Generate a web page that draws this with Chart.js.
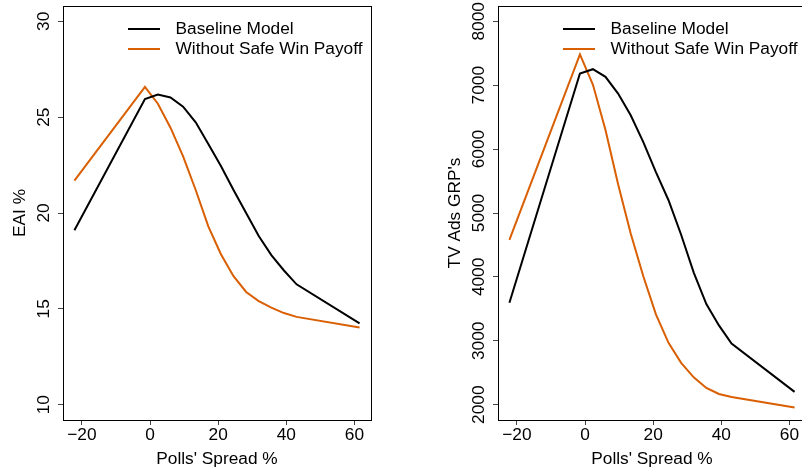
<!DOCTYPE html>
<html><head><meta charset="utf-8">
<script src="https://cdn.jsdelivr.net/npm/chart.js@4/dist/chart.umd.min.js"></script>
<style>
html,body{margin:0;padding:0;background:#fff;overflow:hidden}
#wrap{position:relative;width:802px;height:470px;overflow:hidden;background:#fff}
canvas{position:absolute;top:0}
</style></head><body>
<div id="wrap">
<canvas id="c1" width="400" height="470" style="left:0;width:400px;height:470px"></canvas>
<canvas id="c2" width="410" height="470" style="left:400px;width:410px;height:470px"></canvas>
</div>
<script>
// ---- data ----
const spread = [-22.2, -1.5, 2.3, 6.0, 9.7, 13.4, 17.1, 20.8, 24.5, 28.2, 31.9, 35.6, 39.3, 43.0, 61.5];
const eaiBaseline  = [19.1, 25.95, 26.18, 26.03, 25.55, 24.73, 23.6, 22.45, 21.2, 20.0, 18.8, 17.8, 17.0, 16.28, 14.24];
const eaiNoSafeWin = [21.69, 26.58, 25.7, 24.45, 22.95, 21.2, 19.3, 17.85, 16.7, 15.88, 15.4, 15.06, 14.78, 14.58, 14.03];
const grpBaseline  = [3596, 7183, 7251, 7131, 6869, 6530, 6110, 5640, 5200, 4660, 4068, 3575, 3240, 2957, 2200];
const grpNoSafeWin = [4580, 7482, 7010, 6300, 5450, 4680, 4010, 3413, 2968, 2654, 2428, 2261, 2167, 2120, 1957];
const xTicks = [-20, 0, 20, 40, 60];
const xTickLabels = ['\u221220', '0', '20', '40', '60'];
const eaiTicks = [10, 15, 20, 25, 30];
const eaiTickLabels = ['10', '15', '20', '25', '30'];
const grpTicks = [2000, 3000, 4000, 5000, 6000, 7000, 8000];
const grpTickLabels = ['2000', '3000', '4000', '5000', '6000', '7000', '8000'];
const seriesNames = ['Baseline Model', 'Without Safe Win Payoff'];
const seriesColors = ['#000000', '#D95F02'];
const xTitle = "Polls' Spread %";

const FONT = '17.3px "Liberation Sans", Arial, Helvetica, sans-serif';

function pts(ys){ return spread.map((x,i)=>({x:x, y:ys[i]})); }

const rPlot = {
  id: 'rPlot',
  afterDraw(chart, args, o){
    const ctx = chart.ctx, a = chart.chartArea;
    const xs = chart.scales.x, ys = chart.scales.y;
    ctx.save();
    // box
    ctx.strokeStyle = '#000'; ctx.lineWidth = 1;
    ctx.strokeRect(Math.round(a.left)+0.5, Math.round(a.top)+0.5, Math.round(a.right-a.left), Math.round(a.bottom-a.top));
    ctx.fillStyle = '#000'; ctx.font = FONT;
    // y tick labels (rotated)
    o.yTicks.forEach((v,i)=>{
      ctx.save();
      ctx.translate(a.left - 19, ys.getPixelForValue(v));
      ctx.rotate(-Math.PI/2);
      ctx.textAlign = 'center'; ctx.textBaseline = 'middle';
      ctx.fillText(o.yTickLabels[i], 0, 0);
      ctx.restore();
    });
    // x tick labels
    ctx.textAlign = 'center'; ctx.textBaseline = 'middle';
    xTicks.forEach((v,i)=>{
      ctx.fillText(xTickLabels[i], xs.getPixelForValue(v), a.bottom + 15);
    });
    // x title
    ctx.fillText(xTitle, (a.left + a.right)/2, a.bottom + 39);
    // y title
    ctx.save();
    ctx.translate(a.left - 43, (a.top + a.bottom)/2);
    ctx.rotate(-Math.PI/2);
    ctx.fillText(o.yTitle, 0, 0);
    ctx.restore();
    // legend
    chart.data.datasets.forEach((d,i)=>{
      const y = a.top + 23 + i*20;
      ctx.strokeStyle = d.borderColor; ctx.lineWidth = 2;
      ctx.beginPath(); ctx.moveTo(a.left + 65, y); ctx.lineTo(a.left + 97, y); ctx.stroke();
      ctx.textAlign = 'left'; ctx.fillStyle = '#000';
      ctx.fillText(d.label, a.left + 112.5, y);
    });
    ctx.restore();
  }
};

function makeChart(id, b, n, yMin, yMax, yTicks, yTickLabels, yTitle, yWidth, padRight){
  return new Chart(document.getElementById(id), {
    type: 'line',
    data: { datasets: [
      { label: seriesNames[0], data: pts(b), borderColor: seriesColors[0], borderWidth: 2, pointRadius: 0, tension: 0, fill: false },
      { label: seriesNames[1], data: pts(n), borderColor: seriesColors[1], borderWidth: 2, pointRadius: 0, tension: 0, fill: false }
    ]},
    options: {
      responsive: false, animation: false, events: [],
      layout: { padding: { left: 0, top: 6, right: padRight, bottom: 0 } },
      plugins: { legend: { display: false }, tooltip: { enabled: false }, rPlot: { yTicks, yTickLabels, yTitle } },
      scales: {
        x: { type: 'linear', min: -25.55, max: 64.85,
             afterBuildTicks: s => { s.ticks = xTicks.map(v => ({ value: v })); },
             ticks: { display: false },
             grid: { drawOnChartArea: false, drawTicks: true, tickLength: 5, tickColor: '#444', color: '#444' },
             border: { display: false },
             afterFit: s => { s.height = 50; } },
        y: { type: 'linear', min: yMin, max: yMax,
             afterBuildTicks: s => { s.ticks = yTicks.map(v => ({ value: v })); },
             ticks: { display: false },
             grid: { drawOnChartArea: false, drawTicks: true, tickLength: 5, tickColor: '#444', color: '#444' },
             border: { display: false },
             afterFit: s => { s.width = yWidth; } }
      }
    },
    plugins: [rPlot]
  });
}

makeChart('c1', eaiBaseline, eaiNoSafeWin, 9.2, 30.8, eaiTicks, eaiTickLabels, 'EAI %', 63, 29);
makeChart('c2', grpBaseline, grpNoSafeWin, 1760, 8240, grpTicks, grpTickLabels, "TV Ads GRP's", 98, 4);
</script>
</body></html>
